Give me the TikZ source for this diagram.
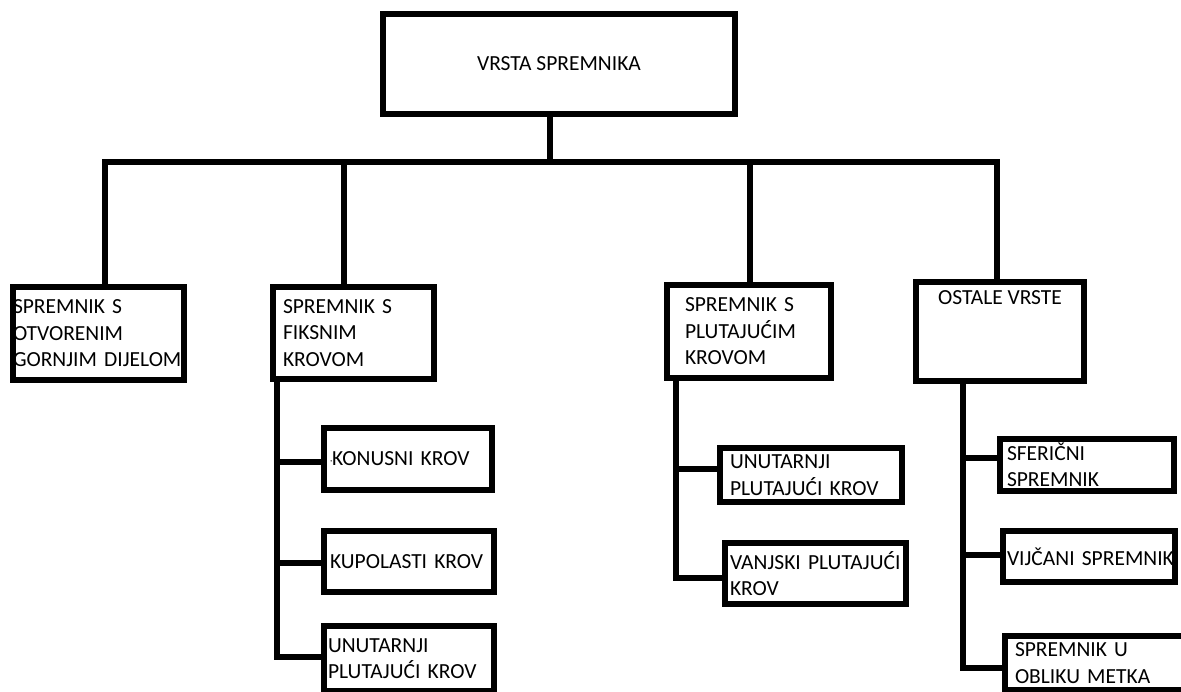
\documentclass[tikz,border=0pt]{standalone}
\usepackage{fontspec}
\setmainfont{Carlito}
\usepackage{tikz}
\usepackage{tkz-euclide}

\hyphenpenalty=10000
\exhyphenpenalty=10000

\tikzset{
caixa/.style={draw, rectangle, line width=6pt, anchor=north west, outer sep=0pt,
  inner ysep=0pt, align=left, font=\fontsize{21.5}{26.5}\selectfont},
ligacao/.style={line width=6pt}
}

\begin{document}
\begin{tikzpicture}[x=1pt, y=-1pt] %uma unidade = um pixel da figura, y cresce para baixo

\useasboundingbox (0,0) rectangle (1181,692);

%O comando \tkzDefPoints define os pontos (x/y/NomedoPonto). A ate M sao os cantos superiores esquerdos das caixas, N ate Z sao os pontos das ligacoes
\tkzDefPoints{
383/14/A,
13/287/B,
273/287/C,
667/285/D,
916/282/E,
324/428/F,
324/531/G,
324/626/H,
720/448/I,
725/543/J,
1000/439/K,
1003/531/L,
1005/636/M,
550/162/N,
105/162/O,
344/162/P,
750/162/Q,
997/162/R,
277/462/S,
277/563/T,
277/657/U,
676/469/V,
676/578/W,
963/458/X,
963/555/Y,
963/668/Z}

%Caixa principal e as quatro caixas do primeiro nivel
%---------------------------------------------------
\node[caixa, align=center, minimum width=352pt, minimum height=100pt] (vrsta) at (A) {VRSTA SPREMNIKA};
\node[caixa, inner xsep=0pt, text width=171pt, minimum height=93pt] (otvoreni) at (B) {SPREMNIK~S\\OTVORENIM\\GORNJIM~DIJELOM};
\node[caixa, inner xsep=10pt, text width=141pt, minimum height=92pt] (fiksni) at (C) {SPREMNIK~S\\FIKSNIM\\KROVOM};
\node[caixa, inner xsep=18pt, text width=128pt, minimum height=93pt] (plutajuci) at (D) {SPREMNIK~S\\PLUTAJUĆIM\\KROVOM};
\node[caixa, align=center, minimum width=168pt, minimum height=99pt, text height=15pt, text depth=68pt] (ostale) at (E) {OSTALE VRSTE};
%---------------------------------------------------

%Caixas do segundo nivel (spremnik s fiksnim krovom)
%---------------------------------------------------
\node[caixa, inner xsep=6pt, text width=156pt, minimum height=62pt] (konusni) at (F) {\raisebox{4pt}{\small ,}KONUSNI~KROV};
\node[caixa, inner xsep=6pt, text width=158pt, minimum height=61pt] (kupolasti) at (G) {KUPOLASTI~KROV};
\node[caixa, inner xsep=4pt, text width=162pt, minimum height=65pt] (unutarnjiF) at (H) {UNUTARNJI\\PLUTAJUĆI~KROV};
%---------------------------------------------------

%Caixas do segundo nivel (spremnik s plutajucim krovom)
%---------------------------------------------------
\node[caixa, inner xsep=10pt, text width=162pt, minimum height=54pt] (unutarnjiP) at (I) {UNUTARNJI\\PLUTAJUĆI~KROV};
\node[caixa, inner xsep=5pt, text width=171pt, minimum height=61pt] (vanjski) at (J) {VANJSKI~PLUTAJUĆI\\KROV};
%---------------------------------------------------

%Caixas do segundo nivel (ostale vrste)
%---------------------------------------------------
\node[caixa, inner xsep=7pt, text width=160pt, minimum height=52pt] (sfericni) at (K) {SFERIČNI\\SPREMNIK};
\node[caixa, inner xsep=4pt, text width=164pt, minimum height=51pt] (vijcani) at (L) {VIJČANI~SPREMNIK};
\node[caixa, inner xsep=10pt, text width=180pt, minimum height=54pt] (metak) at (M) {SPREMNIK~U\\OBLIKU~METKA};
%---------------------------------------------------

%---------------------------------------------------
%Ligacoes do primeiro nivel
%---------------------------------------------------
\draw[ligacao] (N |- vrsta.south)--(N);
\draw[ligacao] (O |- otvoreni.north)--(O)--(R)--(R |- ostale.north);
\draw[ligacao] (P)--(P |- fiksni.north);
\draw[ligacao] (Q)--(Q |- plutajuci.north);

%---------------------------------------------------
%Ligacoes do segundo nivel
%---------------------------------------------------
\draw[ligacao] (S |- fiksni.south)--(U)--(U -| unutarnjiF.west);
\draw[ligacao] (S)--(S -| konusni.west);
\draw[ligacao] (T)--(T -| kupolasti.west);

\draw[ligacao] (V |- plutajuci.south)--(W)--(W -| vanjski.west);
\draw[ligacao] (V)--(V -| unutarnjiP.west);

\draw[ligacao] (X |- ostale.south)--(Z)--(Z -| metak.west);
\draw[ligacao] (X)--(X -| sfericni.west);
\draw[ligacao] (Y)--(Y -| vijcani.west);

\end{tikzpicture}
\end{document}
